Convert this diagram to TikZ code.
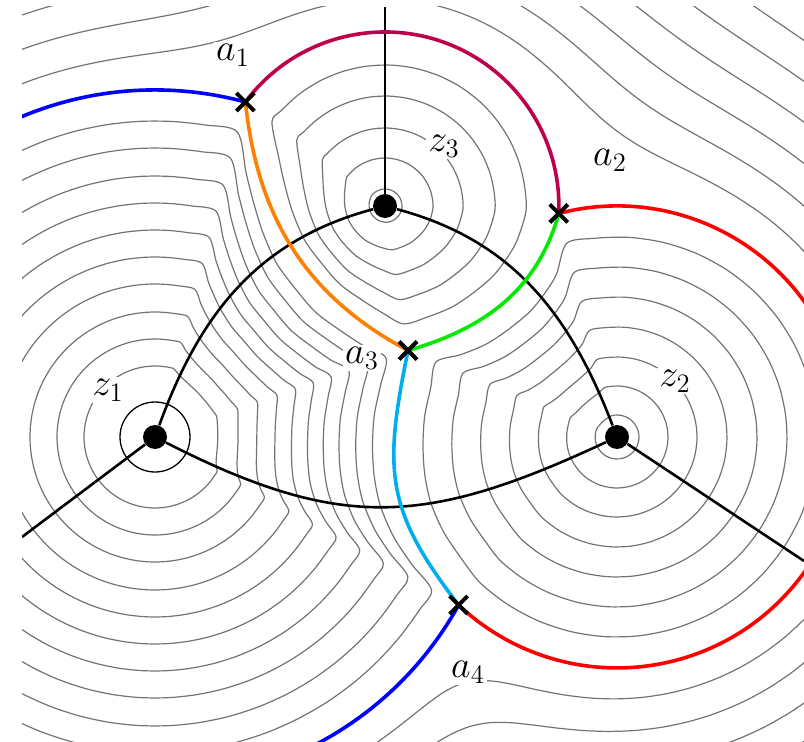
\documentclass[tikz,border=0pt]{standalone}
\usepackage{fix-cm}
\usetikzlibrary{shapes.misc}

\definecolor{maroonc}{RGB}{190,0,75}
\definecolor{skyc}{RGB}{0,174,239}
\definecolor{greenc}{RGB}{0,235,0}
\definecolor{orangec}{RGB}{255,128,0}

\pgfdeclarelayer{back}
\pgfdeclarelayer{mid}
\pgfsetlayers{back,mid,main}

% closed level line in the cell of a pole
% #1,#2 centre, #3 outer radius, #4 level, #5 angles on the outer circle, #6 angle/radius of the rest
\newcommand\cellring[6]{%
  \pgfmathsetmacro\lev{#4/#3}%
  \gdef\ringpts{}%
  \foreach \ang in {#5} {%
    \pgfmathsetmacro\ringx{#1+#4*cos(\ang)}%
    \pgfmathsetmacro\ringy{#2+#4*sin(\ang)}%
    \xdef\ringpts{\ringpts (\ringx,\ringy)}%
  }%
  \foreach \ang/\rad in {#6} {%
    \pgfmathsetmacro\rr{\lev*\rad+\lev*(1-\lev)^2*(#3-\rad)}%
    \pgfmathsetmacro\ringx{#1+\rr*cos(\ang)}%
    \pgfmathsetmacro\ringy{#2+\rr*sin(\ang)}%
    \xdef\ringpts{\ringpts (\ringx,\ringy)}%
  }%
  \edef\ringcmd{\noexpand\draw[contour] plot[smooth cycle] coordinates {\ringpts};}%
  \ringcmd
}

% level line outside the discs, #1 = distance (rounded union, seen from (390,390))
\newcommand\outerring[1]{%
  \gdef\ringpts{}%
  \foreach \ang in {0,3,...,357} {%
    \pgfmathsetmacro\ca{cos(\ang)}%
    \pgfmathsetmacro\sa{sin(\ang)}%
    \pgfmathsetmacro\pa{-2.35*\ca-0.86*\sa}%
    \pgfmathsetmacro\ea{\pa+sqrt(\pa*\pa-6.2621+(3.47+#1/100)^2)}%
    \pgfmathsetmacro\pb{2.27*\ca-0.86*\sa}%
    \pgfmathsetmacro\eb{\pb+sqrt(\pb*\pb-5.8925+(2.31+#1/100)^2)}%
    \pgfmathsetmacro\pc{-0.05*\ca+1.45*\sa}%
    \pgfmathsetmacro\ec{\pc+sqrt(\pc*\pc-2.105+(1.74+#1/100)^2)}%
    \pgfmathsetmacro\pd{1.10*\ca+0.30*\sa}%
    \pgfmathsetmacro\ed{\pd+sqrt(\pd*\pd-1.30+(1.55+#1/100)^2)}%
    \pgfmathsetmacro\em{max(\ea,\eb,\ec,\ed)}%
    \pgfmathsetmacro\es{\em+0.45*ln(exp(max(2.222*(\ea-\em),-9))+exp(max(2.222*(\eb-\em),-9))+exp(max(2.222*(\ec-\em),-9))+exp(max(2.222*(\ed-\em),-9)))}%
    \pgfmathsetmacro\ringx{390+100*\es*\ca}%
    \pgfmathsetmacro\ringy{390+100*\es*\sa}%
    \xdef\ringpts{\ringpts (\ringx,\ringy)}%
  }%
  \edef\ringcmd{\noexpand\draw[contour] plot[smooth cycle] coordinates {\ringpts};}%
  \ringcmd
}

\begin{document}
\begin{tikzpicture}[x=0.5pt, y=0.5pt,
    contour/.style={black!55, line width=0.6pt},
    sep/.style={black, line width=1.3pt},
    cut/.style={line width=1.8pt},
    pole/.style={circle, fill=black, minimum size=12pt, inner sep=0pt},
    zero/.style={cross out, draw=black, line width=2pt, minimum size=7pt, inner sep=0pt},
    lab/.style={fill=white, inner sep=1pt, font=\fontsize{19}{21}\selectfont}]
    \useasboundingbox (0,0) rectangle (804,741);

    % Poles
    \node[pole] (z1) at (155,304) {};
    \node[pole] (z2) at (617,304) {};
    \node[pole] (z3) at (385,535) {};

    % Zeros
    \node[zero] (a1) at (245.4,639) {};
    \node[zero] (a2) at (558.8,527.6) {};
    \node[zero] (a3) at (408,390.5) {};
    \node[zero] (a4) at (458.6,136) {};

    % Ends at the frame
    \coordinate (e1) at (22,204);
    \coordinate (e2) at (804,180);
    \coordinate (e3) at (385,734);

    % Labels
    \node[lab] (la1) at (233,686) {$a_1$};
    \node[lab] (la2) at (610,581) {$a_2$};
    \node[lab] (la3) at (362,383) {$a_3$};
    \node[lab] (la4) at (468,69) {$a_4$};
    \node[lab] (lz1) at (108,351) {$z_1$};
    \node[lab] (lz2) at (675,360) {$z_2$};
    \node[lab] (lz3) at (444,595) {$z_3$};

    \begin{pgfonlayer}{back}
    \begin{scope}
        \clip (22,0) rectangle (804,734);

        % Level lines around z1
        \foreach \lv in {71,98,125,153,180,207,234,261,289,316} {
            \cellring{155}{304}{347}{\lv}{74.9,80.9,...,326.9,331.05}
            {333.6/314.8, 337.2/284.2, 342.9/258.4, 349.8/243.8, 357.6/238.2, 365.7/241.2,
             373/253.5, 378.9/267.4, 383.7/249, 390.1/233.4, 398.1/222.2, 407.2/223.6,
             415/231.9, 422.2/253.2, 427.2/278.8, 431/306.8}
        }

        % Level lines around z2
        \foreach \lv in {22,51,80,110,140,170,200} {
            \cellring{617}{304}{231}{\lv}{226.7,236.7,...,456.7,464.6}
            {470.5/199.7, 477.1/184.3, 484.8/175.3, 495/175.4, 504.5/184.3, 512.2/203.5,
             517.5/226.2, 525.2/222.4, 533.8/223.3, 542.6/224.2, 551/226.1, 559.5/228,
             568.8/228.3, 577.9/228}
        }

        % Level lines around z3
        \foreach \lv in {17,48,78,110,141} {
            \cellring{385}{535}{174}{\lv}{-2.4,7.6,...,137.6,143.3}
            {155.6/142.8, 168/124.7, 183.6/112.2, 202.9/105.3, 220.7/102.8, 239.7/108.9,
             256.2/117.4, 269.1/131, 279/146.3, 290.9/145.6, 303.5/148.7, 315.3/152,
             326.6/158.1, 335.6/162.5, 344.8/167.9}
        }

        % Level lines outside the discs
        \foreach \off in {30,62,...,318} {
            \outerring{\off}
        }

        \draw[black, line width=0.65pt] (z1.center) circle[radius=35];
    \end{scope}
    \end{pgfonlayer}

    \begin{pgfonlayer}{mid}
    \begin{scope}
        \clip (22,0) rectangle (804,734);

        % Arcs between the poles
        \draw[sep] (z1) to[out=70, in=195] (z3);
        \draw[sep] (z3) to[out=-15, in=111] (z2);
        \draw[sep] (z1) to[out=-27, in=205, looseness=1.15] (z2);
        \draw[sep] (z3) -- (e3);
        \draw[sep] (z1) -- (e1);
        \draw[sep] (z2) -- (e2);

        % Critical lines through the zeros
        \draw[cut, blue] (a1.center) arc[start angle=74.9, end angle=331.05, radius=347];
        \draw[cut, maroonc] (a1.center) arc[start angle=143.3, end angle=-2.4, radius=174];
        \draw[cut, red] (a2.center) arc[start angle=104.6, end angle=-133.3, radius=231];
        \draw[cut, orangec] (a1.center) to[out=-84, in=152] (a3.center);
        \draw[cut, greenc] (a2.center) to[out=-105.6, in=16] (a3.center);
        \draw[cut, skyc] (a3.center) to[out=-101.5, in=127.6, looseness=1.2] (a4.center);
    \end{scope}
    \end{pgfonlayer}
\end{tikzpicture}
\end{document}
